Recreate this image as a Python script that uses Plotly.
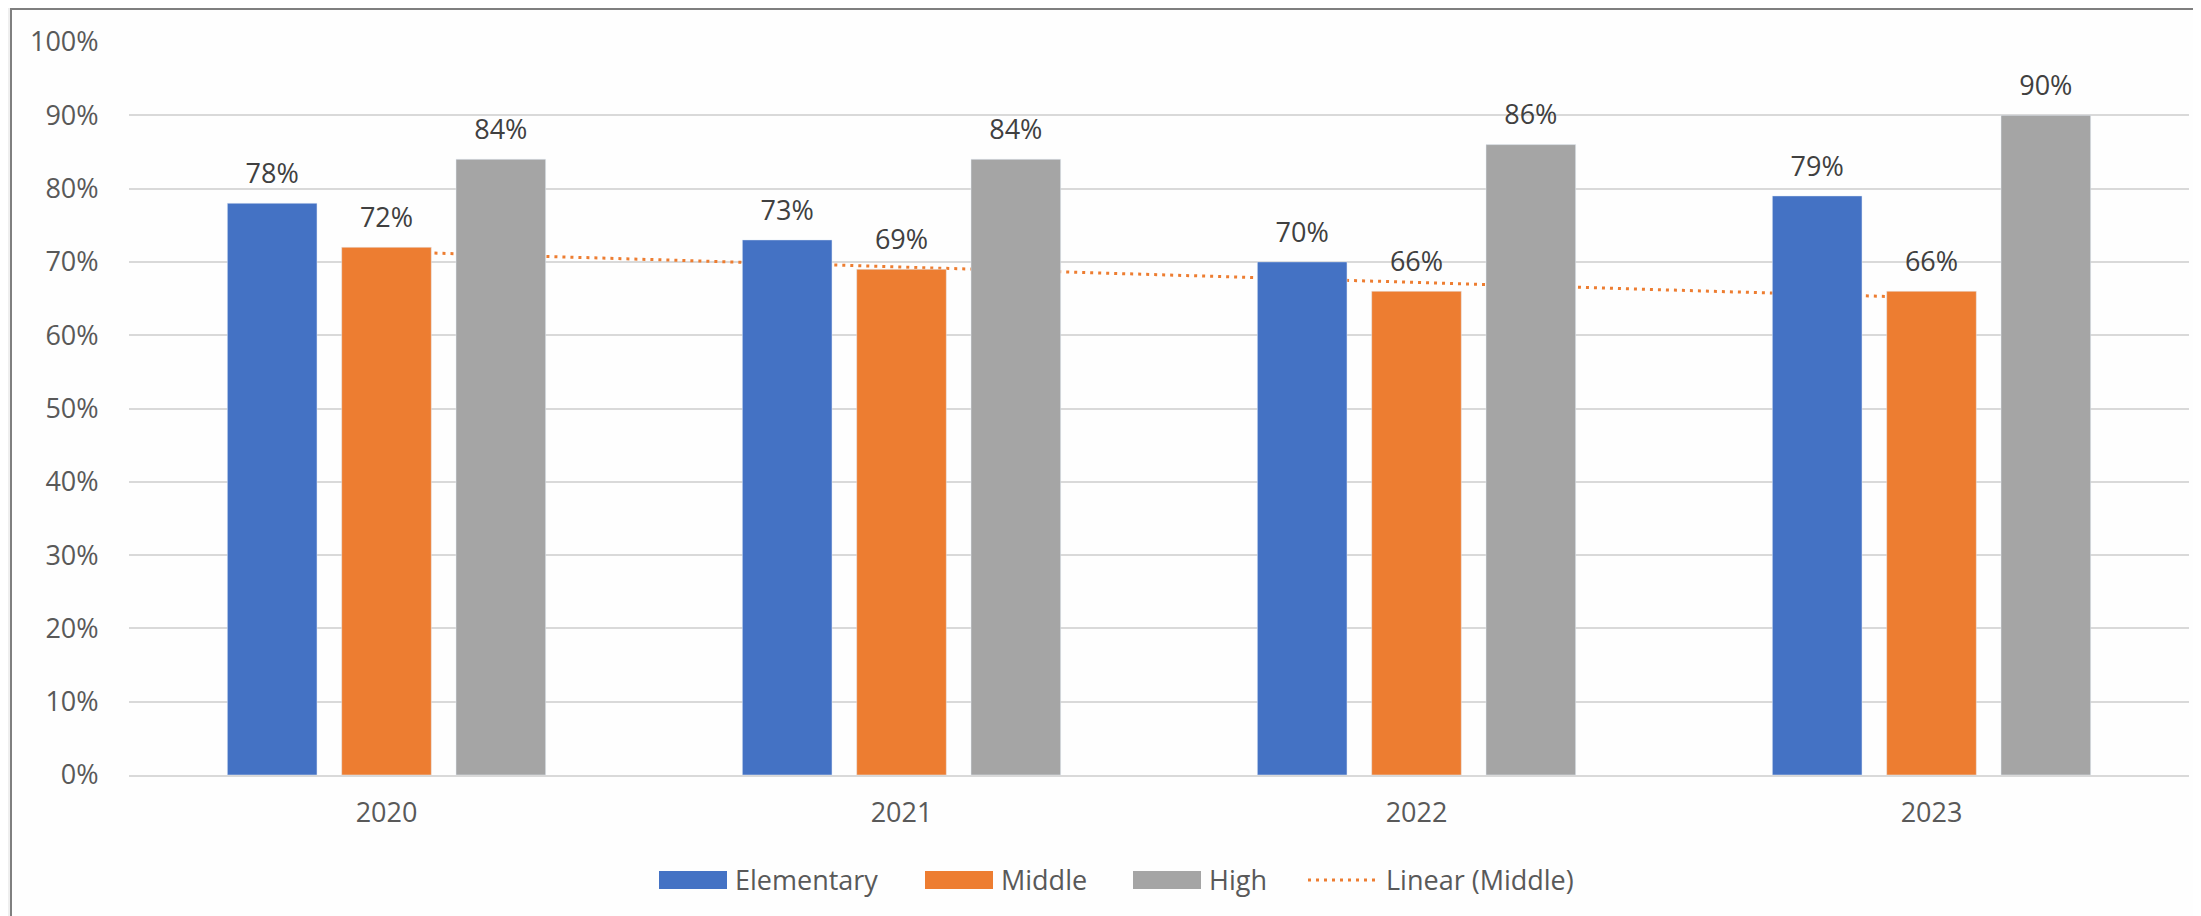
import numpy as np
import plotly.graph_objects as go

years = ["2020", "2021", "2022", "2023"]
elementary = [78, 73, 70, 79]
middle = [72, 69, 66, 66]
high = [84, 84, 86, 90]
y_ticks = [0, 10, 20, 30, 40, 50, 60, 70, 80, 90, 100]
y_tick_text = [f"{v}%" for v in y_ticks]
series_names = ["Elementary", "Middle", "High", "Linear (Middle)"]

BLUE = "#4472C4"
ORANGE = "#ED7D31"
GRAY = "#A5A5A5"
FONT = "Open Sans"
TXT = "#595959"

# linear trend of the Middle series
xi = np.arange(len(middle))
slope, intercept = np.polyfit(xi, middle, 1)
trend = list(slope * xi + intercept)

# page offset of the figure (body margin) and figure geometry
OFF = 8
W, H = 2201 - OFF, 916 - OFF
L, R, T, B = 121, 12, 34, 141
PW, PH = W - L - R, H - T - B


def px(xpage):
    return (xpage - OFF - L) / PW


def py(ypage):
    return (H - B - (ypage - OFF)) / PH


fig = go.Figure()

# trend line on the base axes (drawn below the bars)
fig.add_trace(go.Scatter(
    x=years, y=trend, mode="lines", name=series_names[3],
    line=dict(color=ORANGE, width=3, dash="3px,5px"),
    xaxis="x", yaxis="y", showlegend=False, hoverinfo="skip",
))

for name, vals, col in [(series_names[0], elementary, BLUE),
                        (series_names[1], middle, ORANGE),
                        (series_names[2], high, GRAY)]:
    fig.add_trace(go.Bar(
        x=years, y=vals, name=name, marker=dict(color=col),
        text=[f"<span style='font-size:27px'>{v}%</span><br> " for v in vals],
        textposition="outside",
        textfont=dict(family=FONT, size=11, color="#404040"),
        cliponaxis=False, xaxis="x2", yaxis="y2", showlegend=False,
    ))

# legend drawn as swatches + labels
legend_items = [
    (series_names[0], BLUE, 659, 727, "rect"),
    (series_names[1], ORANGE, 925, 993, "rect"),
    (series_names[2], GRAY, 1133, 1201, "rect"),
    (series_names[3], ORANGE, 1308, 1378, "line"),
]
shapes = [dict(type="rect", xref="paper", yref="paper",
               x0=px(11), x1=1.02, y0=-0.3, y1=py(9),
               line=dict(color="#7F7F7F", width=2),
               fillcolor="#FEFEFE", layer="below")]
annotations = []
for name, col, x0, x1, kind in legend_items:
    if kind == "rect":
        shapes.append(dict(type="rect", xref="paper", yref="paper",
                           x0=px(x0), x1=px(x1), y0=py(889), y1=py(871),
                           line=dict(width=0), fillcolor=col))
    else:
        shapes.append(dict(type="line", xref="paper", yref="paper",
                           x0=px(x0), x1=px(x1), y0=py(880), y1=py(880),
                           line=dict(color=col, width=3, dash="3px,5px")))
    annotations.append(dict(xref="paper", yref="paper", x=px(x1 + 6), y=py(879),
                            xanchor="left", yanchor="middle", showarrow=False,
                            text=name, font=dict(family=FONT, size=27, color=TXT)))

fig.update_layout(
    width=W, height=H,
    margin=dict(l=L, r=R, t=T, b=B, pad=0),
    paper_bgcolor="#EFEFEF",
    plot_bgcolor="rgba(0,0,0,0)",
    barmode="group", bargap=0.334, bargroupgap=0.216,
    font=dict(family=FONT, size=27, color=TXT),
    showlegend=False,
    xaxis=dict(type="category", range=[-0.5, 3.5], showgrid=False,
               showline=True, linecolor="#D9D9D9", linewidth=2,
               ticks="outside", ticklen=13, tickcolor="rgba(0,0,0,0)",
               tickfont=dict(family=FONT, size=27, color=TXT)),
    yaxis=dict(range=[0, 100], tickmode="array", tickvals=y_ticks,
               ticktext=y_tick_text,
               showgrid=True, gridcolor="#D9D9D9", gridwidth=2,
               zeroline=False, ticks="outside", ticklen=24,
               tickcolor="rgba(0,0,0,0)",
               tickfont=dict(family=FONT, size=27, color=TXT)),
    xaxis2=dict(type="category", range=[-0.5, 3.5], overlaying="x",
                showgrid=False, showticklabels=False, showline=False,
                zeroline=False, matches="x"),
    yaxis2=dict(range=[0, 100], overlaying="y", showgrid=False,
                showticklabels=False, zeroline=False, matches="y"),
    shapes=shapes,
    annotations=annotations,
)

fig.write_html("out.html")
